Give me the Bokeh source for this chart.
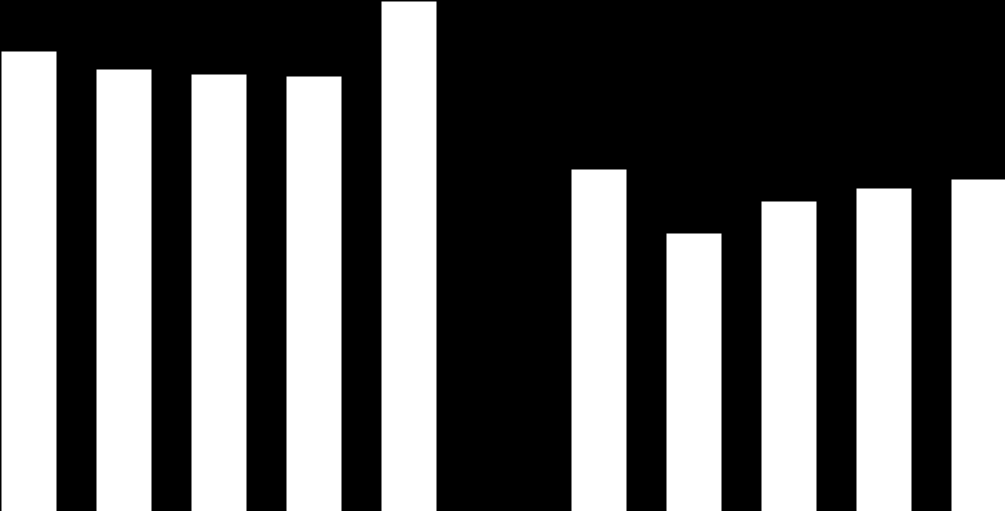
from bokeh.plotting import figure
from bokeh.models import Range1d
from bokeh.embed import file_html
from bokeh.resources import INLINE

# Data (slot index, bar height)
slots = [0, 1, 2, 3, 4, 6, 7, 8, 9, 10]
heights = [460, 442, 437, 435, 510, 342, 278, 310, 323, 332]

p = figure(width=1005, height=511, output_backend="svg", toolbar_location=None,
           x_range=Range1d(-0.3, 10.279), y_range=Range1d(0, 511),
           min_border=0, min_border_left=0, min_border_right=0,
           min_border_top=0, min_border_bottom=0)
p.background_fill_color = "black"
p.border_fill_color = "black"
p.outline_line_color = None
p.axis.visible = False
p.xaxis.visible = False
p.yaxis.visible = False
p.grid.visible = False

p.vbar(x=slots, top=heights, bottom=0, width=55 / 95, fill_color="white", line_color=None)

html = file_html(p, INLINE)
html = html.replace("<head>", "<head><style>html,body{margin:0;padding:0;background:#000;overflow:hidden}</style>", 1)
open("out.html", "w").write(html)
